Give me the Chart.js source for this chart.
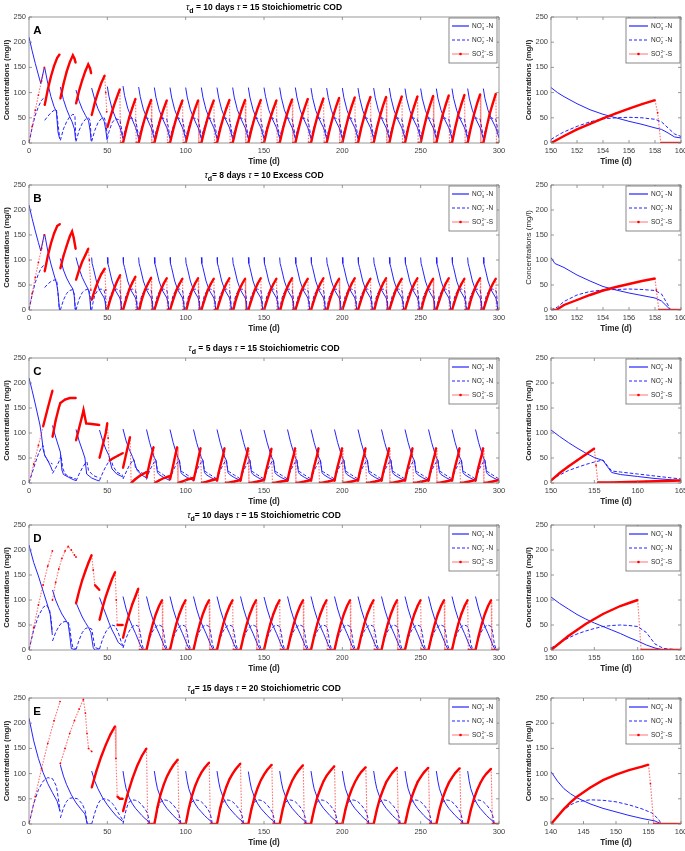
<!DOCTYPE html>
<html>
<head>
<meta charset="utf-8">
<script src="https://cdn.jsdelivr.net/npm/chart.js@4.4.0/dist/chart.umd.min.js"></script>
<style>
  body { margin: 0; background: #fff; width: 685px; height: 851px; overflow: hidden; position: relative; }
  canvas { position: absolute; }
</style>
</head>
<body>
<script>
// Each series is a list of feeding cycles, every cycle a flat list of [time (d), conc (mg/l)] pairs.

// ---- A: tau_d = 10 days, tau = 15, stoichiometric COD ----
const aNo3 = [
  [0,210, 2,183, 4,158, 6,135, 7.5,118, 9.8,150],
  [10,150, 12,118, 14,92, 16,72, 17.5,62, 18.5,22, 19.6,8],
  [20,111, 22,86, 24,67, 26,52, 27.5,42, 29,28, 29.8,5],
  [30,105, 32,83, 34,67, 36,55, 38,44, 39,25, 39.7,4],
  [40,109, 42,86, 44,68, 46,55, 48,43, 49,26, 49.8,6],
  [50,112, 51,93, 53,68, 55,52, 58,31, 59,21, 59.9,9],
  [60,113, 61,94, 63,69, 65,53, 68,31, 69,21, 69.9,9],
  [70,111, 71,92, 73,67, 75,51, 78,30, 79,20, 79.9,9],
  [80,110, 81,91, 83,66, 85,50, 88,30, 89,20, 89.9,9],
  [90,110, 91,91, 93,66, 95,50, 98,30, 99,20, 99.9,9],
  [100,110, 101,91, 103,66, 105,50, 108,30, 109,20, 109.9,9],
  [110,110, 111,91, 113,66, 115,50, 118,30, 119,20, 119.9,9],
  [120,110, 121,91, 123,66, 125,50, 128,30, 129,20, 129.9,9],
  [130,110, 131,91, 133,66, 135,50, 138,30, 139,20, 139.9,9],
  [140,110, 141,91, 143,66, 145,50, 148,30, 149,20, 149.9,9],
  [150,110, 151,92, 153,66, 155,50, 158,30, 159,20, 159.9,10],
  [160,110, 161,91, 163,66, 165,50, 168,30, 169,20, 169.9,9],
  [170,110, 171,91, 173,66, 175,50, 178,30, 179,20, 179.9,9],
  [180,109, 181,90, 183,65, 185,49, 188,30, 189,20, 189.9,9],
  [190,109, 191,90, 193,65, 195,49, 198,30, 199,20, 199.9,9],
  [200,109, 201,90, 203,65, 205,49, 208,30, 209,20, 209.9,9],
  [210,109, 211,90, 213,65, 215,49, 218,30, 219,20, 219.9,9],
  [220,109, 221,90, 223,65, 225,49, 228,30, 229,20, 229.9,9],
  [230,109, 231,90, 233,65, 235,49, 238,30, 239,20, 239.9,9],
  [240,108, 241,89, 243,65, 245,49, 248,30, 249,20, 249.9,9],
  [250,108, 251,89, 253,65, 255,49, 258,30, 259,20, 259.9,9],
  [260,108, 261,89, 263,65, 265,49, 268,30, 269,20, 269.9,9],
  [270,108, 271,89, 273,65, 275,49, 278,30, 279,20, 279.9,9],
  [280,108, 281,89, 283,65, 285,49, 288,30, 289,20, 289.9,9],
  [290,108, 291,89, 293,65, 295,49, 298,30, 299,20, 300,10]
];
const aNo2 = [
  [0,0, 2,30, 4,55, 6,72, 8,85, 9.8,90],
  [10,45, 12,53, 14,60, 16,65, 17.5,66, 18.5,38, 19.6,10],
  [20,5, 22,28, 24,42, 26,52, 28,57, 29.3,55, 29.9,6],
  [30,3, 32,25, 34,39, 36,47, 38,50, 39,44, 39.8,6],
  [40,3, 42,25, 44,40, 46,48, 48,50, 49,42, 49.9,15],
  [50,8, 51,22, 53,40, 55,48, 58,46, 59,30, 59.9,13],
  [60,7, 61,22, 63,42, 65,50, 68,47, 69,30, 69.9,13],
  [70,7, 71,22, 73,42, 75,50, 78,47, 79,30, 79.9,13],
  [80,7, 81,22, 83,42, 85,50, 88,47, 89,30, 89.9,13],
  [90,7, 91,22, 93,42, 95,50, 98,47, 99,30, 99.9,13],
  [100,7, 101,22, 103,42, 105,50, 108,47, 109,30, 109.9,13],
  [110,7, 111,22, 113,42, 115,50, 118,47, 119,30, 119.9,13],
  [120,7, 121,22, 123,42, 125,50, 128,47, 129,30, 129.9,13],
  [130,7, 131,22, 133,42, 135,50, 138,47, 139,30, 139.9,13],
  [140,7, 141,22, 143,42, 145,50, 148,47, 149,30, 149.9,13],
  [150,7, 151,22, 153,42, 155,50, 158,47, 159,30, 159.9,13],
  [160,7, 161,22, 163,42, 165,50, 168,47, 169,30, 169.9,13],
  [170,7, 171,22, 173,42, 175,50, 178,47, 179,30, 179.9,13],
  [180,7, 181,22, 183,42, 185,50, 188,47, 189,30, 189.9,13],
  [190,7, 191,22, 193,42, 195,50, 198,47, 199,30, 199.9,13],
  [200,7, 201,22, 203,42, 205,50, 208,47, 209,30, 209.9,13],
  [210,7, 211,22, 213,42, 215,50, 218,47, 219,30, 219.9,13],
  [220,7, 221,22, 223,42, 225,50, 228,47, 229,30, 229.9,13],
  [230,7, 231,22, 233,42, 235,50, 238,47, 239,30, 239.9,13],
  [240,7, 241,22, 243,42, 245,50, 248,47, 249,30, 249.9,13],
  [250,7, 251,22, 253,42, 255,50, 258,47, 259,30, 259.9,13],
  [260,7, 261,22, 263,42, 265,50, 268,47, 269,30, 269.9,13],
  [270,7, 271,22, 273,42, 275,50, 278,47, 279,30, 279.9,13],
  [280,7, 281,22, 283,42, 285,50, 288,47, 289,30, 289.9,13],
  [290,7, 291,22, 293,42, 295,50, 298,47, 299,30, 300,13]
];
const aSo4 = [
  [0,0, 2,33, 4,65, 6,95, 8,123, 9.8,150],
  [10,75, 12,106, 14,132, 16,153, 18,169, 19.6,176],
  [20,88, 22,117, 24,141, 26,160, 28,174, 29,168, 29.8,159],
  [30,78, 32,104, 34,125, 36,143, 37.8,156, 39,148, 39.7,138],
  [40,55, 42,80, 44,100, 46,118, 48.3,134, 49,100, 49.6,62],
  [50,31, 52,52, 54,72, 56,90, 58,107, 58.4,0, 60,0],
  [60,0, 62,27, 64,51, 66,70, 68,88, 68.4,0, 70,0],
  [70,0, 72,27, 74,50, 76,69, 78,86, 78.4,0, 80,0],
  [80,0, 82,26, 84,49, 86,68, 88,85, 88.4,0, 90,0],
  [90,0, 92,26, 94,49, 96,68, 98,85, 98.4,0, 100,0],
  [100,0, 102,26, 104,49, 106,68, 108,85, 108.4,0, 110,0],
  [110,0, 112,26, 114,49, 116,68, 118,85, 118.4,0, 120,0],
  [120,0, 122,27, 124,50, 126,69, 128,86, 128.4,0, 130,0],
  [130,0, 132,27, 134,50, 136,69, 138,86, 138.4,0, 140,0],
  [140,0, 142,27, 144,50, 146,69, 148,86, 148.4,0, 150,0],
  [150,0, 152,27, 154,49, 156,68, 158,85, 158.4,0, 160,0],
  [160,0, 162,27, 164,50, 166,70, 168,87, 168.4,0, 170,0],
  [170,0, 172,27, 174,51, 176,70, 178,88, 178.4,0, 180,0],
  [180,0, 182,28, 184,52, 186,71, 188,89, 188.4,0, 190,0],
  [190,0, 192,28, 194,52, 196,72, 198,90, 198.4,0, 200,0],
  [200,0, 202,28, 204,53, 206,73, 208,91, 208.4,0, 210,0],
  [210,0, 212,29, 214,53, 216,74, 218,92, 218.4,0, 220,0],
  [220,0, 222,29, 224,53, 226,74, 228,92, 228.4,0, 230,0],
  [230,0, 232,29, 234,54, 236,74, 238,93, 238.4,0, 240,0],
  [240,0, 242,29, 244,54, 246,74, 248,93, 248.4,0, 250,0],
  [250,0, 252,29, 254,55, 256,75, 258,94, 258.4,0, 260,0],
  [260,0, 262,29, 264,55, 266,76, 268,95, 268.4,0, 270,0],
  [270,0, 272,30, 274,56, 276,77, 278,96, 278.4,0, 280,0],
  [280,0, 282,30, 284,56, 286,78, 288,97, 288.4,0, 290,0],
  [290,0, 292,30, 294,57, 296,78, 298,98, 298.4,0, 300,0]
];
const aZoomNo3 = [150,110, 150.5,100, 151,92, 152,78, 153,66, 154,57, 155,50, 156,43, 157,37, 158,30, 158.5,27, 159,20, 159.5,12, 160,10];
const aZoomNo2 = [150,7, 150.5,15, 151,22, 152,33, 153,42, 154,48, 155,50, 156,51, 157,50, 158,47, 158.5,42, 159,30, 159.5,18, 160,13];
const aZoomSo4 = [150,0, 151,14, 152,27, 153,38, 154,49, 155,59, 156,68, 157,77, 158,85, 158.2,60, 158.45,0, 160,0];

// ---- B: tau_d = 8 days, tau = 10, excess COD ----
const bNo3 = [
  [0,210, 2,183, 4,158, 6,135, 7.5,118, 9.8,152],
  [10,152, 12,118, 14,92, 16,70, 17.7,52, 18.5,35, 19.4,2, 20,0],
  [20,103, 22,80, 24,64, 26,52, 28,42, 28.8,30, 29.5,2, 30,0],
  [30,105, 32,82, 34,65, 36,52, 38,40, 38.8,25, 39.4,0, 40,0],
  [40,105, 40.3,93, 41,85, 43,58, 45,40, 48,24, 48.6,16, 49.2,0, 50,0],
  [50,105, 50.3,93, 51,85, 53,58, 55,40, 58,24, 58.6,16, 59.2,0, 60,0],
  [60,105, 60.3,93, 61,85, 63,58, 65,40, 68,24, 68.6,16, 69.2,0, 70,0],
  [70,105, 70.3,93, 71,85, 73,58, 75,40, 78,24, 78.6,16, 79.2,0, 80,0],
  [80,105, 80.3,93, 81,85, 83,58, 85,40, 88,24, 88.6,16, 89.2,0, 90,0],
  [90,105, 90.3,93, 91,85, 93,58, 95,40, 98,24, 98.6,16, 99.2,0, 100,0],
  [100,105, 100.3,93, 101,85, 103,58, 105,40, 108,24, 108.6,16, 109.2,0, 110,0],
  [110,105, 110.3,93, 111,85, 113,58, 115,40, 118,24, 118.6,16, 119.2,0, 120,0],
  [120,105, 120.3,93, 121,85, 123,58, 125,40, 128,24, 128.6,16, 129.2,0, 130,0],
  [130,105, 130.3,93, 131,85, 133,58, 135,40, 138,24, 138.6,16, 139.2,0, 140,0],
  [140,105, 140.3,93, 141,85, 143,58, 145,40, 148,24, 148.6,16, 149.2,0, 150,0],
  [150,105, 150.3,93, 151,85, 153,58, 155,40, 158,24, 158.6,16, 159.2,0, 160,0],
  [160,105, 160.3,93, 161,85, 163,58, 165,40, 168,24, 168.6,16, 169.2,0, 170,0],
  [170,105, 170.3,93, 171,85, 173,58, 175,40, 178,24, 178.6,16, 179.2,0, 180,0],
  [180,105, 180.3,93, 181,85, 183,58, 185,40, 188,24, 188.6,16, 189.2,0, 190,0],
  [190,105, 190.3,93, 191,85, 193,58, 195,40, 198,24, 198.6,16, 199.2,0, 200,0],
  [200,105, 200.3,93, 201,85, 203,58, 205,40, 208,24, 208.6,16, 209.2,0, 210,0],
  [210,105, 210.3,93, 211,85, 213,58, 215,40, 218,24, 218.6,16, 219.2,0, 220,0],
  [220,105, 220.3,93, 221,85, 223,58, 225,40, 228,24, 228.6,16, 229.2,0, 230,0],
  [230,105, 230.3,93, 231,85, 233,58, 235,40, 238,24, 238.6,16, 239.2,0, 240,0],
  [240,105, 240.3,93, 241,85, 243,58, 245,40, 248,24, 248.6,16, 249.2,0, 250,0],
  [250,105, 250.3,93, 251,85, 253,58, 255,40, 258,24, 258.6,16, 259.2,0, 260,0],
  [260,105, 260.3,93, 261,85, 263,58, 265,40, 268,24, 268.6,16, 269.2,0, 270,0],
  [270,105, 270.3,93, 271,85, 273,58, 275,40, 278,24, 278.6,16, 279.2,0, 280,0],
  [280,105, 280.3,93, 281,85, 283,58, 285,40, 288,24, 288.6,16, 289.2,0, 290,0],
  [290,105, 290.3,93, 291,85, 293,58, 295,40, 298,24, 298.6,16, 299.2,0, 300,0]
];
const bNo2 = [
  [0,0, 2,30, 4,55, 6,72, 8,85, 9.8,90],
  [10,45, 12,52, 14,57, 16,60, 17.7,60, 18.6,30, 19.4,0, 20,0],
  [20,0, 22,20, 24,33, 26,39, 28,41, 29,30, 29.6,0, 30,0],
  [30,0, 32,22, 34,35, 36,40, 38,42, 39,30, 39.5,0, 40,0],
  [40,0, 41,17, 42,30, 44,40, 46,42, 48,39, 48.5,32, 49,10, 49.2,0, 50,0],
  [50,0, 51,17, 52,30, 54,40, 56,42, 58,39, 58.5,32, 59,10, 59.2,0, 60,0],
  [60,0, 61,17, 62,30, 64,40, 66,42, 68,39, 68.5,32, 69,10, 69.2,0, 70,0],
  [70,0, 71,17, 72,30, 74,40, 76,42, 78,39, 78.5,32, 79,10, 79.2,0, 80,0],
  [80,0, 81,17, 82,30, 84,40, 86,42, 88,39, 88.5,32, 89,10, 89.2,0, 90,0],
  [90,0, 91,17, 92,30, 94,40, 96,42, 98,39, 98.5,32, 99,10, 99.2,0, 100,0],
  [100,0, 101,17, 102,30, 104,40, 106,42, 108,39, 108.5,32, 109,10, 109.2,0, 110,0],
  [110,0, 111,17, 112,30, 114,40, 116,42, 118,39, 118.5,32, 119,10, 119.2,0, 120,0],
  [120,0, 121,17, 122,30, 124,40, 126,42, 128,39, 128.5,32, 129,10, 129.2,0, 130,0],
  [130,0, 131,17, 132,30, 134,40, 136,42, 138,39, 138.5,32, 139,10, 139.2,0, 140,0],
  [140,0, 141,17, 142,30, 144,40, 146,42, 148,39, 148.5,32, 149,10, 149.2,0, 150,0],
  [150,0, 151,17, 152,30, 154,40, 156,42, 158,39, 158.5,32, 159,10, 159.2,0, 160,0],
  [160,0, 161,17, 162,30, 164,40, 166,42, 168,39, 168.5,32, 169,10, 169.2,0, 170,0],
  [170,0, 171,17, 172,30, 174,40, 176,42, 178,39, 178.5,32, 179,10, 179.2,0, 180,0],
  [180,0, 181,17, 182,30, 184,40, 186,42, 188,39, 188.5,32, 189,10, 189.2,0, 190,0],
  [190,0, 191,17, 192,30, 194,40, 196,42, 198,39, 198.5,32, 199,10, 199.2,0, 200,0],
  [200,0, 201,17, 202,30, 204,40, 206,42, 208,39, 208.5,32, 209,10, 209.2,0, 210,0],
  [210,0, 211,17, 212,30, 214,40, 216,42, 218,39, 218.5,32, 219,10, 219.2,0, 220,0],
  [220,0, 221,17, 222,30, 224,40, 226,42, 228,39, 228.5,32, 229,10, 229.2,0, 230,0],
  [230,0, 231,17, 232,30, 234,40, 236,42, 238,39, 238.5,32, 239,10, 239.2,0, 240,0],
  [240,0, 241,17, 242,30, 244,40, 246,42, 248,39, 248.5,32, 249,10, 249.2,0, 250,0],
  [250,0, 251,17, 252,30, 254,40, 256,42, 258,39, 258.5,32, 259,10, 259.2,0, 260,0],
  [260,0, 261,17, 262,30, 264,40, 266,42, 268,39, 268.5,32, 269,10, 269.2,0, 270,0],
  [270,0, 271,17, 272,30, 274,40, 276,42, 278,39, 278.5,32, 279,10, 279.2,0, 280,0],
  [280,0, 281,17, 282,30, 284,40, 286,42, 288,39, 288.5,32, 289,10, 289.2,0, 290,0],
  [290,0, 291,17, 292,30, 294,40, 296,42, 298,39, 298.5,32, 299,10, 299.2,0, 300,0]
];
const bSo4 = [
  [0,0, 2,33, 4,65, 6,95, 8,123, 9.8,150],
  [10,77, 12,108, 14,133, 16,153, 18,168, 19.8,172],
  [20,83, 22,108, 24,128, 26,147, 27.5,157, 28.5,145, 29.8,122],
  [30,60, 32,80, 34,97, 36,110, 37.9,123, 38.5,100, 39.5,40],
  [40,20, 42,40, 44,57, 46,71, 48.4,83, 49,40, 49.5,3, 50,0],
  [50,0, 52,22, 54,40, 56,56, 58.2,70, 58.5,0, 60,0],
  [60,0, 60.4,0, 62,21, 64,41, 66,55, 68,67, 68.3,0, 70,0],
  [70,0, 70.4,0, 72,21, 74,40, 76,53, 78,65, 78.3,0, 80,0],
  [80,0, 80.4,0, 82,20, 84,39, 86,53, 88,64, 88.3,0, 90,0],
  [90,0, 90.4,0, 92,20, 94,39, 96,52, 98,63, 98.3,0, 100,0],
  [100,0, 100.4,0, 102,20, 104,39, 106,53, 108,64, 108.3,0, 110,0],
  [110,0, 110.4,0, 112,20, 114,39, 116,52, 118,63, 118.3,0, 120,0],
  [120,0, 120.4,0, 122,20, 124,39, 126,53, 128,64, 128.3,0, 130,0],
  [130,0, 130.4,0, 132,20, 134,39, 136,52, 138,63, 138.3,0, 140,0],
  [140,0, 140.4,0, 142,20, 144,39, 146,53, 148,64, 148.3,0, 150,0],
  [150,0, 150.4,0, 152,20, 154,39, 156,52, 158,63, 158.3,0, 160,0],
  [160,0, 160.4,0, 162,20, 164,39, 166,53, 168,64, 168.3,0, 170,0],
  [170,0, 170.4,0, 172,20, 174,39, 176,52, 178,63, 178.3,0, 180,0],
  [180,0, 180.4,0, 182,20, 184,39, 186,53, 188,64, 188.3,0, 190,0],
  [190,0, 190.4,0, 192,20, 194,39, 196,52, 198,63, 198.3,0, 200,0],
  [200,0, 200.4,0, 202,20, 204,39, 206,53, 208,64, 208.3,0, 210,0],
  [210,0, 210.4,0, 212,20, 214,39, 216,52, 218,63, 218.3,0, 220,0],
  [220,0, 220.4,0, 222,20, 224,39, 226,53, 228,64, 228.3,0, 230,0],
  [230,0, 230.4,0, 232,20, 234,39, 236,52, 238,63, 238.3,0, 240,0],
  [240,0, 240.4,0, 242,20, 244,39, 246,53, 248,64, 248.3,0, 250,0],
  [250,0, 250.4,0, 252,20, 254,39, 256,52, 258,63, 258.3,0, 260,0],
  [260,0, 260.4,0, 262,20, 264,39, 266,53, 268,64, 268.3,0, 270,0],
  [270,0, 270.4,0, 272,20, 274,39, 276,52, 278,63, 278.3,0, 280,0],
  [280,0, 280.4,0, 282,20, 284,39, 286,53, 288,64, 288.3,0, 290,0],
  [290,0, 290.4,0, 292,20, 294,39, 296,52, 298,63, 298.3,0, 300,0]
];
const bZoomNo3 = [150,105, 150.3,93, 151,85, 152,70, 153,58, 154,47, 155,40, 156,34, 157,29, 158,24, 158.5,18, 159.2,0, 160,0];
const bZoomNo2 = [150,0, 150.5,6, 151,17, 152,30, 153,37, 154,40, 155,41, 156,42, 157,41, 158,39, 158.5,32, 159,10, 159.2,0, 160,0];
const bZoomSo4 = [150,0, 150.4,0, 151,10, 152,20, 153,30, 154,39, 155,46, 156,52, 157,58, 158,63, 158.1,40, 158.3,0, 160,0];

// ---- C: tau_d = 5 days, tau = 15, stoichiometric COD ----
const cNo3 = [
  [0,210, 2,185, 4,158, 6,130, 7,116, 8,95, 9,68, 10,56, 12,45, 14,32, 15,24],
  [15,115, 17,92, 19,72, 20,62, 21,26, 22,17, 25,12, 28,7, 30,5],
  [30,107, 32,84, 34,66, 35.7,50, 36.8,18, 40,10, 43,6, 45,4],
  [45,106, 47,85, 49,68, 51,55, 52,40, 53,28, 56,18, 60,12],
  [60,108, 62,84, 64,67, 66,53, 68,35, 69,25, 72,16, 75,10],
  [75,107, 77,81, 79,60, 80,51, 81,45, 82,21, 83,17, 86,11, 90,5],
  [90,107, 92,81, 94,60, 95,51, 96,45, 97,21, 98,17, 101,11, 105,5],
  [105,107, 107,81, 109,60, 110,51, 111,45, 112,21, 113,17, 116,11, 120,5],
  [120,107, 122,81, 124,60, 125,51, 126,45, 127,21, 128,17, 131,11, 135,5],
  [135,107, 137,81, 139,60, 140,51, 141,45, 142,21, 143,17, 146,11, 150,5],
  [150,106, 152,81, 154,60, 155,51, 156,45, 157,21, 158,17, 161,11, 165,5],
  [165,107, 167,81, 169,60, 170,51, 171,45, 172,21, 173,17, 176,11, 180,5],
  [180,107, 182,81, 184,60, 185,51, 186,45, 187,21, 188,17, 191,11, 195,5],
  [195,107, 197,81, 199,60, 200,51, 201,45, 202,21, 203,17, 206,11, 210,5],
  [210,107, 212,81, 214,60, 215,51, 216,45, 217,21, 218,17, 221,11, 225,5],
  [225,107, 227,81, 229,60, 230,51, 231,45, 232,21, 233,17, 236,11, 240,5],
  [240,107, 242,81, 244,60, 245,51, 246,45, 247,21, 248,17, 251,11, 255,5],
  [255,107, 257,81, 259,60, 260,51, 261,45, 262,21, 263,17, 266,11, 270,5],
  [270,107, 272,81, 274,60, 275,51, 276,45, 277,21, 278,17, 281,11, 285,5],
  [285,107, 287,81, 289,60, 290,51, 291,45, 292,21, 293,17, 296,11, 300,5]
];
const cNo2 = [
  [0,0, 2,20, 4,40, 6,58, 8,72, 9,75, 10,55, 12,44, 15,38],
  [15,19, 17,30, 19,42, 20.5,55, 21.5,30, 23,18, 26,12, 30,8],
  [30,4, 32,18, 34,30, 36,40, 37,42, 38,25, 41,15, 45,10],
  [45,5, 47,20, 49,33, 51,43, 52.5,47, 53.5,35, 56,22, 60,15],
  [60,8, 62,22, 64,35, 66,44, 67,47, 68,30, 71,22, 75,15],
  [75,7, 77,25, 79,37, 80,42, 81,46, 82,24, 83,22, 86,16, 90,8],
  [90,7, 92,25, 94,37, 95,42, 96,46, 97,24, 98,22, 101,16, 105,8],
  [105,7, 107,25, 109,37, 110,42, 111,46, 112,24, 113,22, 116,16, 120,8],
  [120,7, 122,25, 124,37, 125,42, 126,46, 127,24, 128,22, 131,16, 135,8],
  [135,7, 137,25, 139,37, 140,42, 141,46, 142,24, 143,22, 146,16, 150,8],
  [150,7, 152,25, 154,37, 155,42, 156,46, 157,24, 158,22, 161,16, 165,8],
  [165,7, 167,25, 169,37, 170,42, 171,46, 172,24, 173,22, 176,16, 180,8],
  [180,7, 182,25, 184,37, 185,42, 186,46, 187,24, 188,22, 191,16, 195,8],
  [195,7, 197,25, 199,37, 200,42, 201,46, 202,24, 203,22, 206,16, 210,8],
  [210,7, 212,25, 214,37, 215,42, 216,46, 217,24, 218,22, 221,16, 225,8],
  [225,7, 227,25, 229,37, 230,42, 231,46, 232,24, 233,22, 236,16, 240,8],
  [240,7, 242,25, 244,37, 245,42, 246,46, 247,24, 248,22, 251,16, 255,8],
  [255,7, 257,25, 259,37, 260,42, 261,46, 262,24, 263,22, 266,16, 270,8],
  [270,7, 272,25, 274,37, 275,42, 276,46, 277,24, 278,22, 281,16, 285,8],
  [285,7, 287,25, 289,37, 290,42, 291,46, 292,24, 293,22, 296,16, 300,8]
];
const cSo4 = [
  [0,0, 3,38, 6,75, 9,113, 12,150, 15,185],
  [15,92, 17,125, 19,150, 20,160, 23,167, 26,170, 30,170],
  [30,85, 32,110, 34,135, 34.8,146, 36.5,119, 40,118, 45,116],
  [45,50, 47,75, 49,100, 50,120, 50.5,90, 51.3,45, 54,50, 57,55, 60,60],
  [60,30, 62,58, 64.5,92, 65.2,0, 68,8, 71,15, 75,22],
  [75,11, 77,40, 79.5,72, 80.1,0, 83,5, 86,10, 90,14],
  [90,7, 92,35, 94.5,72, 95.1,0, 98,3, 101,7, 105,10],
  [105,5, 107,33, 109.5,70, 110.1,0, 113,2, 116,5, 120,8],
  [120,4, 121,20, 122,33, 123,45, 124,57, 124.8,70, 125.4,0, 128,1, 131,3, 135,6],
  [135,4, 136,20, 137,33, 138,45, 139,57, 139.8,70, 140.4,0, 143,1, 146,3, 150,6],
  [150,5, 151,20, 152,33, 153,45, 154,57, 154.8,69, 155.4,0, 158,1, 161,3, 165,5],
  [165,4, 166,20, 167,33, 168,45, 169,57, 169.8,70, 170.4,0, 173,1, 176,3, 180,6],
  [180,4, 181,20, 182,33, 183,45, 184,57, 184.8,70, 185.4,0, 188,1, 191,3, 195,6],
  [195,4, 196,20, 197,33, 198,45, 199,57, 199.8,70, 200.4,0, 203,1, 206,3, 210,6],
  [210,4, 211,20, 212,33, 213,45, 214,57, 214.8,70, 215.4,0, 218,1, 221,3, 225,6],
  [225,4, 226,20, 227,33, 228,45, 229,57, 229.8,70, 230.4,0, 233,1, 236,3, 240,6],
  [240,4, 241,20, 242,33, 243,45, 244,57, 244.8,70, 245.4,0, 248,1, 251,3, 255,6],
  [255,4, 256,20, 257,33, 258,45, 259,57, 259.8,70, 260.4,0, 263,1, 266,3, 270,6],
  [270,4, 271,20, 272,33, 273,45, 274,57, 274.8,70, 275.4,0, 278,1, 281,3, 285,6],
  [285,4, 286,20, 287,33, 288,45, 289,57, 289.8,70, 290.4,0, 293,1, 296,3, 300,6]
];
const cZoomNo3 = [150,106, 151,93, 152,81, 153,70, 154,60, 155,51, 156,45, 156.5,33, 157,21, 158,17, 160,13, 162,9, 165,5];
const cZoomNo2 = [150,7, 151,16, 152,25, 153,31, 154,37, 155,42, 156,46, 156.5,35, 157,24, 158,22, 160,18, 162,14, 165,8];
const cZoomSo4 = [150,5, 151,20, 152,33, 153,45, 154,57, 155,69, 155.2,35, 155.4,1, 157,1, 159,2, 161,3, 163,4, 165,5];

// ---- D: tau_d = 10 days, tau = 15, stoichiometric COD ----
const dNo3 = [
  [0,210, 3,175, 6,148, 9,118, 12,88, 13.5,72, 14.9,30],
  [15,120, 17,100, 19,85, 21,72, 23,62, 25,52, 26,30, 27,3, 30,0],
  [30,95, 32,80, 34,66, 36,55, 38,45, 39.5,35, 41,5, 42,0, 45,0],
  [45,105, 47,88, 49,72, 51,55, 53,40, 55,28, 57,15, 59.8,8],
  [60,107, 62,82, 64,62, 66,47, 68,33, 70,18, 71,10, 72,4, 73,0, 75,0],
  [75,107, 77,82, 79,62, 81,47, 83,33, 85,18, 86,10, 87,4, 88,0, 90,0],
  [90,107, 92,82, 94,62, 96,47, 98,33, 100,18, 101,10, 102,4, 103,0, 105,0],
  [105,107, 107,82, 109,62, 111,47, 113,33, 115,18, 116,10, 117,4, 118,0, 120,0],
  [120,107, 122,82, 124,62, 126,47, 128,33, 130,18, 131,10, 132,4, 133,0, 135,0],
  [135,107, 137,82, 139,62, 141,47, 143,33, 145,18, 146,10, 147,4, 148,0, 150,0],
  [150,106, 152,82, 154,62, 156,47, 158,33, 160,18, 161,10, 162,4, 163,0, 165,0],
  [165,107, 167,82, 169,62, 171,47, 173,33, 175,18, 176,10, 177,4, 178,0, 180,0],
  [180,107, 182,82, 184,62, 186,47, 188,33, 190,18, 191,10, 192,4, 193,0, 195,0],
  [195,107, 197,82, 199,62, 201,47, 203,33, 205,18, 206,10, 207,4, 208,0, 210,0],
  [210,107, 212,82, 214,62, 216,47, 218,33, 220,18, 221,10, 222,4, 223,0, 225,0],
  [225,107, 227,82, 229,62, 231,47, 233,33, 235,18, 236,10, 237,4, 238,0, 240,0],
  [240,107, 242,82, 244,62, 246,47, 248,33, 250,18, 251,10, 252,4, 253,0, 255,0],
  [255,107, 257,82, 259,62, 261,47, 263,33, 265,18, 266,10, 267,4, 268,0, 270,0],
  [270,107, 272,82, 274,62, 276,47, 278,33, 280,18, 281,10, 282,4, 283,0, 285,0],
  [285,107, 287,82, 289,62, 291,47, 293,33, 295,18, 296,10, 297,4, 298,0, 300,0]
];
const dNo2 = [
  [0,0, 3,40, 6,68, 9,85, 11,90, 13,82, 14,65, 14.9,36],
  [15,18, 17,35, 19,47, 21,55, 23,57, 25,56, 26,45, 27,20, 28,5, 30,2],
  [30,1, 32,20, 34,35, 36,43, 38,45, 40,42, 41,25, 42,5, 45,2],
  [45,2, 47,22, 49,36, 51,45, 53,50, 55,48, 57,35, 59,15, 60,8],
  [60,4, 62,24, 64,38, 66,47, 68,50, 70,47, 71,35, 72,12, 73,3, 75,0],
  [75,4, 77,24, 79,38, 81,47, 83,50, 85,47, 86,35, 87,12, 88,3, 90,0],
  [90,4, 92,24, 94,38, 96,47, 98,50, 100,47, 101,35, 102,12, 103,3, 105,0],
  [105,4, 107,24, 109,38, 111,47, 113,50, 115,47, 116,35, 117,12, 118,3, 120,0],
  [120,4, 122,24, 124,38, 126,47, 128,50, 130,47, 131,35, 132,12, 133,3, 135,0],
  [135,4, 137,24, 139,38, 141,47, 143,50, 145,47, 146,35, 147,12, 148,3, 150,0],
  [150,4, 152,24, 154,38, 156,47, 158,50, 160,47, 161,35, 162,12, 163,3, 165,0],
  [165,4, 167,24, 169,38, 171,47, 173,50, 175,47, 176,35, 177,12, 178,3, 180,0],
  [180,4, 182,24, 184,38, 186,47, 188,50, 190,47, 191,35, 192,12, 193,3, 195,0],
  [195,4, 197,24, 199,38, 201,47, 203,50, 205,47, 206,35, 207,12, 208,3, 210,0],
  [210,4, 212,24, 214,38, 216,47, 218,50, 220,47, 221,35, 222,12, 223,3, 225,0],
  [225,4, 227,24, 229,38, 231,47, 233,50, 235,47, 236,35, 237,12, 238,3, 240,0],
  [240,4, 242,24, 244,38, 246,47, 248,50, 250,47, 251,35, 252,12, 253,3, 255,0],
  [255,4, 257,24, 259,38, 261,47, 263,50, 265,47, 266,35, 267,12, 268,3, 270,0],
  [270,4, 272,24, 274,38, 276,47, 278,50, 280,47, 281,35, 282,12, 283,3, 285,0],
  [285,4, 287,24, 289,38, 291,47, 293,50, 295,47, 296,35, 297,12, 298,3, 300,0]
];
const dSo4 = [
  [0,0, 3,45, 6,90, 9,130, 12,168, 14.9,198],
  [15,100, 17,135, 19,162, 21,183, 23,198, 25,207, 27,200, 29,190, 30,186],
  [30,93, 32,118, 34,140, 36,158, 38,175, 40,190, 41,160, 42,130, 43.5,125, 45,120],
  [45,60, 47,85, 49,107, 51,125, 53,142, 55,156, 55.7,100, 56.3,50, 60,50],
  [60,24, 62,50, 64,72, 66,92, 68,108, 69.8,123, 70.5,0, 75,0],
  [75,0, 77,28, 79,52, 81,72, 83,88, 85,100, 85.4,0, 90,0],
  [90,0, 92,28, 94,52, 96,72, 98,88, 100,100, 100.4,0, 105,0],
  [105,0, 107,28, 109,52, 111,72, 113,88, 115,100, 115.4,0, 120,0],
  [120,0, 122,28, 124,52, 126,72, 128,88, 130,100, 130.4,0, 135,0],
  [135,0, 137,28, 139,52, 141,72, 143,88, 145,100, 145.4,0, 150,0],
  [150,0, 152,28, 154,52, 156,72, 158,88, 160,100, 160.4,0, 165,0],
  [165,0, 167,28, 169,52, 171,72, 173,88, 175,100, 175.4,0, 180,0],
  [180,0, 182,28, 184,52, 186,72, 188,88, 190,100, 190.4,0, 195,0],
  [195,0, 197,28, 199,52, 201,72, 203,88, 205,100, 205.4,0, 210,0],
  [210,0, 212,28, 214,52, 216,72, 218,88, 220,100, 220.4,0, 225,0],
  [225,0, 227,28, 229,52, 231,72, 233,88, 235,100, 235.4,0, 240,0],
  [240,0, 242,28, 244,52, 246,72, 248,88, 250,100, 250.4,0, 255,0],
  [255,0, 257,28, 259,52, 261,72, 263,88, 265,100, 265.4,0, 270,0],
  [270,0, 272,28, 274,52, 276,72, 278,88, 280,100, 280.4,0, 285,0],
  [285,0, 287,28, 289,52, 291,72, 293,88, 295,100, 295.4,0, 300,0]
];
const dZoomNo3 = [150,106, 151,93, 152,82, 153,71, 154,62, 155,54, 156,47, 157,40, 158,33, 159,25, 160,18, 161,10, 162,4, 163,0, 165,0];
const dZoomNo2 = [150,4, 151,14, 152,24, 153,32, 154,38, 155,43, 156,47, 157,49, 158,50, 159,49, 160,47, 161,35, 162,12, 163,3, 165,0];
const dZoomSo4 = [150,0, 151,14, 152,28, 153,40, 154,52, 155,62, 156,72, 157,80, 158,88, 159,94, 160,100, 160.4,0, 165,0];

// ---- E: tau_d = 15 days, tau = 20, stoichiometric COD ----
const eNo3 = [
  [0,210, 3,165, 6,130, 9,102, 12,80, 15,62, 18,45, 19.8,25],
  [20,117, 22,95, 24,78, 27,58, 30,42, 33,30, 35.7,20, 37.2,0, 40,0],
  [40,105, 42,85, 44,70, 47,52, 50,38, 53,26, 56,15, 59.8,5],
  [60,105, 61,85, 62,70, 64,52, 66,40, 68,31, 70,24, 72,17, 74,11, 76,6, 77,0, 80,0],
  [80,105, 81,85, 82,70, 84,52, 86,40, 88,31, 90,24, 92,17, 94,11, 96,6, 97,0, 100,0],
  [100,105, 101,85, 102,70, 104,52, 106,40, 108,31, 110,24, 112,17, 114,11, 116,6, 117,0, 120,0],
  [120,105, 121,85, 122,70, 124,52, 126,40, 128,31, 130,24, 132,17, 134,11, 136,6, 137,0, 140,0],
  [140,104, 141,85, 142,70, 144,52, 146,40, 148,31, 150,24, 152,17, 154,11, 156,6, 157,0, 160,0],
  [160,105, 161,85, 162,70, 164,52, 166,40, 168,31, 170,24, 172,17, 174,11, 176,6, 177,0, 180,0],
  [180,105, 181,85, 182,70, 184,52, 186,40, 188,31, 190,24, 192,17, 194,11, 196,6, 197,0, 200,0],
  [200,105, 201,85, 202,70, 204,52, 206,40, 208,31, 210,24, 212,17, 214,11, 216,6, 217,0, 220,0],
  [220,105, 221,85, 222,70, 224,52, 226,40, 228,31, 230,24, 232,17, 234,11, 236,6, 237,0, 240,0],
  [240,105, 241,85, 242,70, 244,52, 246,40, 248,31, 250,24, 252,17, 254,11, 256,6, 257,0, 260,0],
  [260,105, 261,85, 262,70, 264,52, 266,40, 268,31, 270,24, 272,17, 274,11, 276,6, 277,0, 280,0],
  [280,105, 281,85, 282,70, 284,52, 286,40, 288,31, 290,24, 292,17, 294,11, 296,6, 297,0, 300,0]
];
const eNo2 = [
  [0,0, 3,40, 6,68, 9,85, 12,92, 15,90, 17.5,75, 19,45, 19.8,25],
  [20,12, 22,32, 24,45, 26,51, 28,52, 31,50, 34,40, 36,25, 37.2,0, 40,0],
  [40,0, 42,22, 44,40, 46,49, 48,50, 51,47, 54,38, 57,22, 59.8,8],
  [60,0, 61,15, 62,28, 63,38, 64,44, 66,48, 68,47, 70,44, 72,38, 74,30, 75.5,22, 76.5,10, 77,0, 80,0],
  [80,0, 81,15, 82,28, 83,38, 84,44, 86,48, 88,47, 90,44, 92,38, 94,30, 95.5,22, 96.5,10, 97,0, 100,0],
  [100,0, 101,15, 102,28, 103,38, 104,44, 106,48, 108,47, 110,44, 112,38, 114,30, 115.5,22, 116.5,10, 117,0, 120,0],
  [120,0, 121,15, 122,28, 123,38, 124,44, 126,48, 128,47, 130,44, 132,38, 134,30, 135.5,22, 136.5,10, 137,0, 140,0],
  [140,0, 141,15, 142,28, 143,38, 144,44, 146,48, 148,47, 150,44, 152,38, 154,30, 155.5,22, 156.5,10, 157,0, 160,0],
  [160,0, 161,15, 162,28, 163,38, 164,44, 166,48, 168,47, 170,44, 172,38, 174,30, 175.5,22, 176.5,10, 177,0, 180,0],
  [180,0, 181,15, 182,28, 183,38, 184,44, 186,48, 188,47, 190,44, 192,38, 194,30, 195.5,22, 196.5,10, 197,0, 200,0],
  [200,0, 201,15, 202,28, 203,38, 204,44, 206,48, 208,47, 210,44, 212,38, 214,30, 215.5,22, 216.5,10, 217,0, 220,0],
  [220,0, 221,15, 222,28, 223,38, 224,44, 226,48, 228,47, 230,44, 232,38, 234,30, 235.5,22, 236.5,10, 237,0, 240,0],
  [240,0, 241,15, 242,28, 243,38, 244,44, 246,48, 248,47, 250,44, 252,38, 254,30, 255.5,22, 256.5,10, 257,0, 260,0],
  [260,0, 261,15, 262,28, 263,38, 264,44, 266,48, 268,47, 270,44, 272,38, 274,30, 275.5,22, 276.5,10, 277,0, 280,0],
  [280,0, 281,15, 282,28, 283,38, 284,44, 286,48, 288,47, 290,44, 292,38, 294,30, 295.5,22, 296.5,10, 297,0, 300,0]
];
const eSo4 = [
  [0,0, 4,55, 8,110, 12,160, 16,205, 19.8,243],
  [20,120, 23,150, 26,180, 29,205, 32,228, 34.7,247, 36,220, 37,180, 38,150, 40,144],
  [40,72, 43,105, 46,133, 49,157, 52,178, 54.9,194, 55.5,130, 56.3,55, 58,50, 60,50],
  [60,25, 63,60, 66,90, 69,115, 72,135, 75,150, 75.8,0, 80,0],
  [80,0, 81,16, 82,33, 84,59, 86,78, 88,94, 90,106, 92,116, 95,128, 95.8,0, 100,0],
  [100,0, 101,15, 102,31, 104,56, 106,75, 108,90, 110,102, 112,111, 115,122, 115.8,0, 120,0],
  [120,0, 121,15, 122,31, 124,55, 126,74, 128,89, 130,100, 132,109, 135,120, 135.8,0, 140,0],
  [140,0, 141,15, 142,30, 144,54, 146,72, 148,87, 150,98, 152,107, 155,118, 155.8,0, 160,0],
  [160,0, 161,15, 162,30, 164,54, 166,71, 168,86, 170,97, 172,106, 175,117, 175.8,0, 180,0],
  [180,0, 181,15, 182,29, 184,53, 186,70, 188,85, 190,96, 192,104, 195,115, 195.8,0, 200,0],
  [200,0, 201,14, 202,29, 204,52, 206,69, 208,83, 210,94, 212,103, 215,113, 215.8,0, 220,0],
  [220,0, 221,14, 222,28, 224,51, 226,68, 228,83, 230,93, 232,102, 235,112, 235.8,0, 240,0],
  [240,0, 241,14, 242,28, 244,51, 246,68, 248,83, 250,93, 252,102, 255,112, 255.8,0, 260,0],
  [260,0, 261,14, 262,28, 264,51, 266,68, 268,82, 270,92, 272,101, 275,111, 275.8,0, 280,0],
  [280,0, 281,14, 282,28, 284,50, 286,67, 288,81, 290,92, 292,100, 295,110, 295.8,0, 300,0]
];
const eZoomNo3 = [140,104, 141,85, 142,70, 143,60, 144,52, 146,40, 148,31, 150,24, 152,17, 154,11, 156,6, 157,0, 160,0];
const eZoomNo2 = [140,0, 141,15, 142,28, 143,38, 144,44, 146,48, 148,47, 150,44, 152,38, 154,30, 155.5,22, 156.5,10, 157,0, 160,0];
const eZoomSo4 = [140,0, 141,15, 142,30, 143,43, 144,54, 146,72, 148,87, 150,98, 152,107, 154,114, 155,118, 155.3,80, 155.8,0, 160,0];

const legendLabels = [['NO', '3', '\u2212', ' -N'], ['NO', '2', '\u2212', ' -N'], ['SO', '4', '2\u2212', '-S']];

const panels = [
  { letter: 'A', top: 17, bottom: 143, title: [' = 10 days ', ' = 15 Stoichiometric COD'],
    no3: aNo3, no2: aNo2, so4: aSo4, thin: [[0, 10]],
    zoom: { min: 150, max: 160, step: 2, no3: aZoomNo3, no2: aZoomNo2, so4: aZoomSo4, bold: true } },
  { letter: 'B', top: 185, bottom: 310, title: ['= 8 days ', ' = 10 Excess COD'],
    no3: bNo3, no2: bNo2, so4: bSo4, thin: [[0, 10]],
    zoom: { min: 150, max: 160, step: 2, no3: bZoomNo3, no2: bZoomNo2, so4: bZoomSo4, bold: false } },
  { letter: 'C', top: 358, bottom: 483, title: [' = 5 days ', ' = 15 Stoichiometric COD'],
    no3: cNo3, no2: cNo2, so4: cSo4, thin: [[0, 9]],
    zoom: { min: 150, max: 165, step: 5, no3: cZoomNo3, no2: cZoomNo2, so4: cZoomSo4, bold: true } },
  { letter: 'D', top: 525, bottom: 650, title: ['= 10 days ', ' = 15 Stoichiometric COD'],
    no3: dNo3, no2: dNo2, so4: dSo4, thin: [[0, 30]],
    zoom: { min: 150, max: 165, step: 5, no3: dZoomNo3, no2: dZoomNo2, so4: dZoomSo4, bold: true } },
  { letter: 'E', top: 698, bottom: 824, title: ['= 15 days ', ' = 20 Stoichiometric COD'],
    no3: eNo3, no2: eNo2, so4: eSo4, thin: [[0, 40]],
    zoom: { min: 140, max: 160, step: 5, no3: eZoomNo3, no2: eZoomNo2, so4: eZoomSo4, bold: true } }
];

const FONT = '"Liberation Sans", Arial, sans-serif';
const BLUE = 'rgb(35,35,255)';
const TEXT = '#262626';

function toPoints(cycles) {
  const out = [];
  cycles.forEach((c, i) => {
    if (i > 0) out.push({ x: c[0], y: null });
    for (let j = 0; j < c.length; j += 2) out.push({ x: c[j], y: c[j + 1] });
  });
  return out;
}

function so4Segment(thin) {
  const isThin = (ctx) => {
    const a = ctx.p0.parsed, b = ctx.p1.parsed;
    if (thin.some(r => a.x >= r[0] && b.x <= r[1])) return true;
    return (a.y - b.y) / Math.max(b.x - a.x, 0.01) > 25;
  };
  return {
    borderColor: ctx => isThin(ctx) ? 'rgba(255,0,0,0.55)' : 'rgb(255,0,0)',
    borderWidth: ctx => isThin(ctx) ? 1.1 : 2.4,
    borderDash: ctx => isThin(ctx) ? [1.6, 1.4] : []
  };
}

function datasets(no3, no2, so4, thin) {
  return [
    { data: toPoints(so4), borderColor: 'rgb(255,0,0)', borderWidth: 2.4, pointRadius: 0.9,
      pointBackgroundColor: 'rgb(255,0,0)', pointBorderWidth: 0, segment: so4Segment(thin) },
    { data: toPoints(no2), borderColor: BLUE, borderWidth: 1, borderDash: [3.5, 2], pointRadius: 0 },
    { data: toPoints(no3), borderColor: BLUE, borderWidth: 1, pointRadius: 0 }
  ];
}

function drawRich(ctx, x, y, parts, size) {
  ctx.font = `${size}px ${FONT}`;
  ctx.fillText(parts[0], x, y);
  x += ctx.measureText(parts[0]).width;
  ctx.font = `${size * 0.66}px ${FONT}`;
  ctx.fillText(parts[1], x, y + 1.7);
  ctx.fillText(parts[2], x + 0.3, y - 3.4);
  x += Math.max(ctx.measureText(parts[1]).width, ctx.measureText(parts[2]).width + 0.3);
  ctx.font = `${size}px ${FONT}`;
  ctx.fillText(parts[3], x, y);
}

function decor(p, wide) {
  return {
    id: 'decor',
    afterDatasetsDraw(chart) {
      const { ctx, chartArea: a } = chart;
      const sx = chart.scales.x, sy = chart.scales.y;
      ctx.save();
      // axes box with inward ticks
      ctx.strokeStyle = '#7d7d7d';
      ctx.lineWidth = 0.8;
      ctx.setLineDash([]);
      ctx.beginPath();
      ctx.rect(a.left, a.top, a.right - a.left, a.bottom - a.top);
      sx.ticks.forEach(t => {
        const px = sx.getPixelForValue(t.value);
        ctx.moveTo(px, a.bottom); ctx.lineTo(px, a.bottom - 3);
        ctx.moveTo(px, a.top); ctx.lineTo(px, a.top + 3);
      });
      sy.ticks.forEach(t => {
        const py = sy.getPixelForValue(t.value);
        ctx.moveTo(a.left, py); ctx.lineTo(a.left + 3, py);
        ctx.moveTo(a.right, py); ctx.lineTo(a.right - 3, py);
      });
      ctx.stroke();

      // legend box, top right inside the axes
      const bw = wide ? 54 : 48, bh = 45;
      const bx = a.right - bw - (wide ? 1 : 2), by = a.top + 1;
      ctx.fillStyle = '#fff';
      ctx.fillRect(bx, by, bw, bh);
      ctx.strokeStyle = '#6b6b6b';
      ctx.lineWidth = 0.8;
      ctx.strokeRect(bx, by, bw, bh);
      const rows = [8, 22, 36];
      const x0 = bx + 3, x1 = bx + (wide ? 22 : 20);
      ctx.lineWidth = 1.2;
      ctx.strokeStyle = BLUE;
      ctx.beginPath(); ctx.moveTo(x0, by + rows[0]); ctx.lineTo(x1, by + rows[0]); ctx.stroke();
      ctx.setLineDash([3, 2]);
      ctx.beginPath(); ctx.moveTo(x0, by + rows[1]); ctx.lineTo(x1, by + rows[1]); ctx.stroke();
      ctx.setLineDash([]);
      ctx.strokeStyle = 'rgba(255,0,0,0.55)';
      ctx.lineWidth = 1;
      ctx.beginPath(); ctx.moveTo(x0, by + rows[2]); ctx.lineTo(x1, by + rows[2]); ctx.stroke();
      ctx.fillStyle = 'rgb(255,0,0)';
      ctx.beginPath(); ctx.arc((x0 + x1) / 2, by + rows[2], 1.3, 0, Math.PI * 2); ctx.fill();
      ctx.fillStyle = TEXT;
      ctx.textBaseline = 'alphabetic';
      ctx.textAlign = 'left';
      legendLabels.forEach((lab, i) => drawRich(ctx, x1 + 3, by + rows[i] + 2.4, lab, 6.5));

      if (p) {
        // panel letter
        ctx.font = `bold 11.5px ${FONT}`;
        ctx.fillStyle = '#000';
        ctx.fillText(p.letter, a.left + 4.3, a.top + 17);
        // title: tau_d ... tau ...
        const pieces = [
          ['\u03c4', `italic 9px ${FONT}`, 0],
          ['d', `bold 7px ${FONT}`, 2.6],
          [p.title[0], `bold 8.5px ${FONT}`, 0],
          ['\u03c4', `italic 9px ${FONT}`, 0],
          [p.title[1], `bold 8.5px ${FONT}`, 0]
        ];
        let w = 0;
        pieces.forEach(pc => { ctx.font = pc[1]; w += ctx.measureText(pc[0]).width; });
        let x = (a.left + a.right) / 2 - w / 2;
        const y = a.top - 7;
        ctx.fillStyle = '#000';
        pieces.forEach(pc => {
          ctx.font = pc[1];
          ctx.fillText(pc[0], x, y + pc[2]);
          x += ctx.measureText(pc[0]).width;
        });
      }
      ctx.restore();
    }
  };
}

function makeChart(left, top, width, height, cfg) {
  const c = document.createElement('canvas');
  c.width = width; c.height = height;
  c.style.left = left + 'px'; c.style.top = top + 'px';
  c.style.width = width + 'px'; c.style.height = height + 'px';
  document.body.appendChild(c);
  const tickFont = { family: FONT, size: 7.5 };
  new Chart(c, {
    type: 'line',
    data: { datasets: cfg.datasets },
    options: {
      animation: false,
      responsive: false,
      devicePixelRatio: 1,
      spanGaps: false,
      layout: { padding: { top: cfg.padTop, right: cfg.padRight, bottom: 0, left: 0 } },
      plugins: { legend: { display: false }, title: { display: false }, tooltip: { enabled: false } },
      elements: { line: { tension: 0 } },
      scales: {
        x: {
          type: 'linear', min: cfg.xMin, max: cfg.xMax,
          ticks: { stepSize: cfg.xStep, autoSkip: false, maxRotation: 0, padding: 3, color: '#404040', font: tickFont },
          grid: { display: false, drawTicks: false }, border: { display: false },
          title: { display: true, text: 'Time (d)', color: TEXT,
                   font: { family: FONT, size: 8.2, weight: 'bold' }, padding: { top: 0, bottom: 3 } },
          afterFit(s) { s.height = 27; s.paddingLeft = 0; s.paddingRight = 0; }
        },
        y: {
          type: 'linear', min: 0, max: 250,
          ticks: { stepSize: 50, padding: 3, color: '#404040', font: tickFont },
          grid: { display: false, drawTicks: false }, border: { display: false },
          title: { display: true, text: 'Concentrations (mg/l)', color: TEXT,
                   font: { family: FONT, size: 7.8, weight: cfg.yBold ? 'bold' : 'normal' },
                   padding: { top: cfg.yTitlePad, bottom: 0 } },
          afterFit(s) { s.width = cfg.yWidth; s.paddingTop = 0; s.paddingBottom = 0; }
        }
      }
    },
    plugins: [decor(cfg.panel, cfg.wide)]
  });
}

panels.forEach(p => {
  const canvasTop = p.top - 17;
  const canvasH = p.bottom + 27 - canvasTop;
  makeChart(0, canvasTop, 515, canvasH, {
    datasets: datasets(p.no3, p.no2, p.so4, p.thin),
    padTop: 17, padRight: 16, xMin: 0, xMax: 300, xStep: 50,
    yWidth: 29, yTitlePad: 2.3, yBold: true, panel: p, wide: false
  });
  const z = p.zoom;
  makeChart(505, canvasTop, 180, canvasH, {
    datasets: datasets([z.no3], [z.no2], [z.so4], []),
    padTop: 17, padRight: 4, xMin: z.min, xMax: z.max, xStep: z.step,
    yWidth: 46, yTitlePad: 19.3, yBold: z.bold, panel: null, wide: true
  });
});
</script>
</body>
</html>
